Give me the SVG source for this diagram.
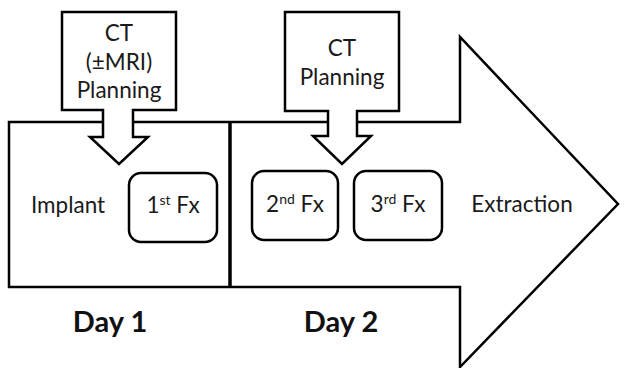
<svg xmlns="http://www.w3.org/2000/svg" width="625" height="368" viewBox="0 0 625 368">
<style>
.o{fill:#fff;stroke:#000;stroke-width:2.5;stroke-linejoin:miter}
.t{font-family:Lato,"Liberation Sans",sans-serif;font-size:22.5px;fill:#1a1a1a;text-anchor:middle}
.d{font-family:Lato,"Liberation Sans",sans-serif;font-size:29px;font-weight:bold;fill:#111;text-anchor:middle}
.s{font-size:14px}
</style>
<rect width="625" height="368" fill="#fff"/>
<g id="timeline">
<polygon class="o" points="9,122 460,122 460,37 618,204 460,367 460,287 9,287"/>
<line x1="230" y1="122" x2="230" y2="287" stroke="#000" stroke-width="3.5"/>
</g>
<g id="ct1">
<polygon class="o" points="62,12 176,12 176,110 133,110 133,137 148,137 119,164 90,137 103,137 103,110 62,110"/>
<text class="t" x="119" y="41">CT</text>
<text class="t" x="119" y="70">(±MRI)</text>
<text class="t" x="119" y="98">Planning</text>
</g>
<g id="ct2">
<polygon class="o" points="285,12 399,12 399,111 357,111 357,136 371,136 342,164 313,136 328,136 328,111 285,111"/>
<text class="t" x="342" y="56">CT</text>
<text class="t" x="342" y="85">Planning</text>
</g>
<g id="implant"><text class="t" x="68" y="213">Implant</text></g>
<g id="fx1">
<rect class="o" x="129" y="173" width="88" height="69" rx="12"/>
<text class="t" x="173" y="213">1<tspan class="s" dy="-8">st</tspan><tspan dy="8"> Fx</tspan></text>
</g>
<g id="fx2">
<rect class="o" x="252" y="171" width="86" height="69" rx="12"/>
<text class="t" x="295" y="212">2<tspan class="s" dy="-8">nd</tspan><tspan dy="8"> Fx</tspan></text>
</g>
<g id="fx3">
<rect class="o" x="354" y="171" width="88" height="69" rx="12"/>
<text class="t" x="398" y="212">3<tspan class="s" dy="-8">rd</tspan><tspan dy="8"> Fx</tspan></text>
</g>
<g id="extraction"><text class="t" x="522" y="212">Extraction</text></g>
<g id="day1"><text class="d" x="110" y="332">Day 1</text></g>
<g id="day2"><text class="d" x="341" y="332">Day 2</text></g>
</svg>
